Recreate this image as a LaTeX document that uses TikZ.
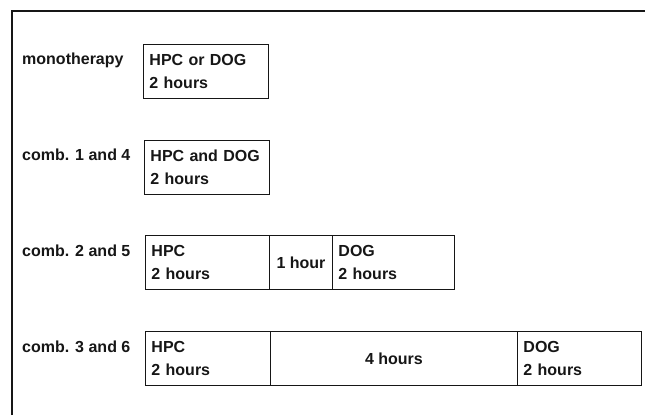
\documentclass[tikz,border=0pt]{standalone}
\usepackage{fontspec}
\setmainfont{Liberation Sans}
\definecolor{sInk}{HTML}{161616}
\usetikzlibrary{positioning}
\tikzset{
 slotbase/.style={draw=sInk, line width=0.9pt, anchor=north west, minimum height=54pt, inner xsep=6pt, inner ysep=0pt, text=sInk, font=\fontsize{16}{23}\selectfont\bfseries},
 rowlabel/.style={anchor=base west, inner sep=0pt, text=sInk, font=\fontsize{16}{23}\selectfont\bfseries}
}
\newcommand{\slotgap}{0}
\newcommand{\slotbox}[6]{%
\ifnum#6=\slotgap
 \pgfmathsetmacro{\slotw}{#3-12}%
 \node[slotbase, align=left, text width=\slotw pt] (#4) at (#1,#2) {#5};%
\else
 \node[slotbase, align=center, minimum width=#3pt] (#4) at (#1,#2) {#5};%
\fi}

\begin{document}
\begin{tikzpicture}[x=1pt, y=-1pt]
\useasboundingbox (0,0) rectangle (645,415);
% frame
\coordinate (fb) at (12,415);
\coordinate (fr) at (645,11);
\draw[sInk, line width=2pt] (fb) |- (fr);
% rows
\node[rowlabel] (l1) at (22,64) {monotherapy};
\slotbox{143}{44}{125}{m1}{HPC or DOG\\2 hours}{0}
\node[rowlabel] (l2) at (22,160) {comb. 1 and 4};
\slotbox{144}{140}{125}{c1}{HPC and DOG\\2 hours}{0}
\node[rowlabel] (l3) at (22,256) {comb. 2 and 5};
\slotbox{145}{235}{124}{a1}{HPC\\2 hours}{0}
\slotbox{269}{235}{63}{a2}{1 hour}{1}
\slotbox{332}{235}{122}{a3}{DOG\\2 hours}{0}
\node[rowlabel] (l4) at (22,352) {comb. 3 and 6};
\slotbox{145}{331}{125}{b1}{HPC\\2 hours}{0}
\slotbox{270}{331}{247}{b2}{4 hours}{1}
\slotbox{517}{331}{124}{b3}{DOG\\2 hours}{0}
\end{tikzpicture}
\end{document}
